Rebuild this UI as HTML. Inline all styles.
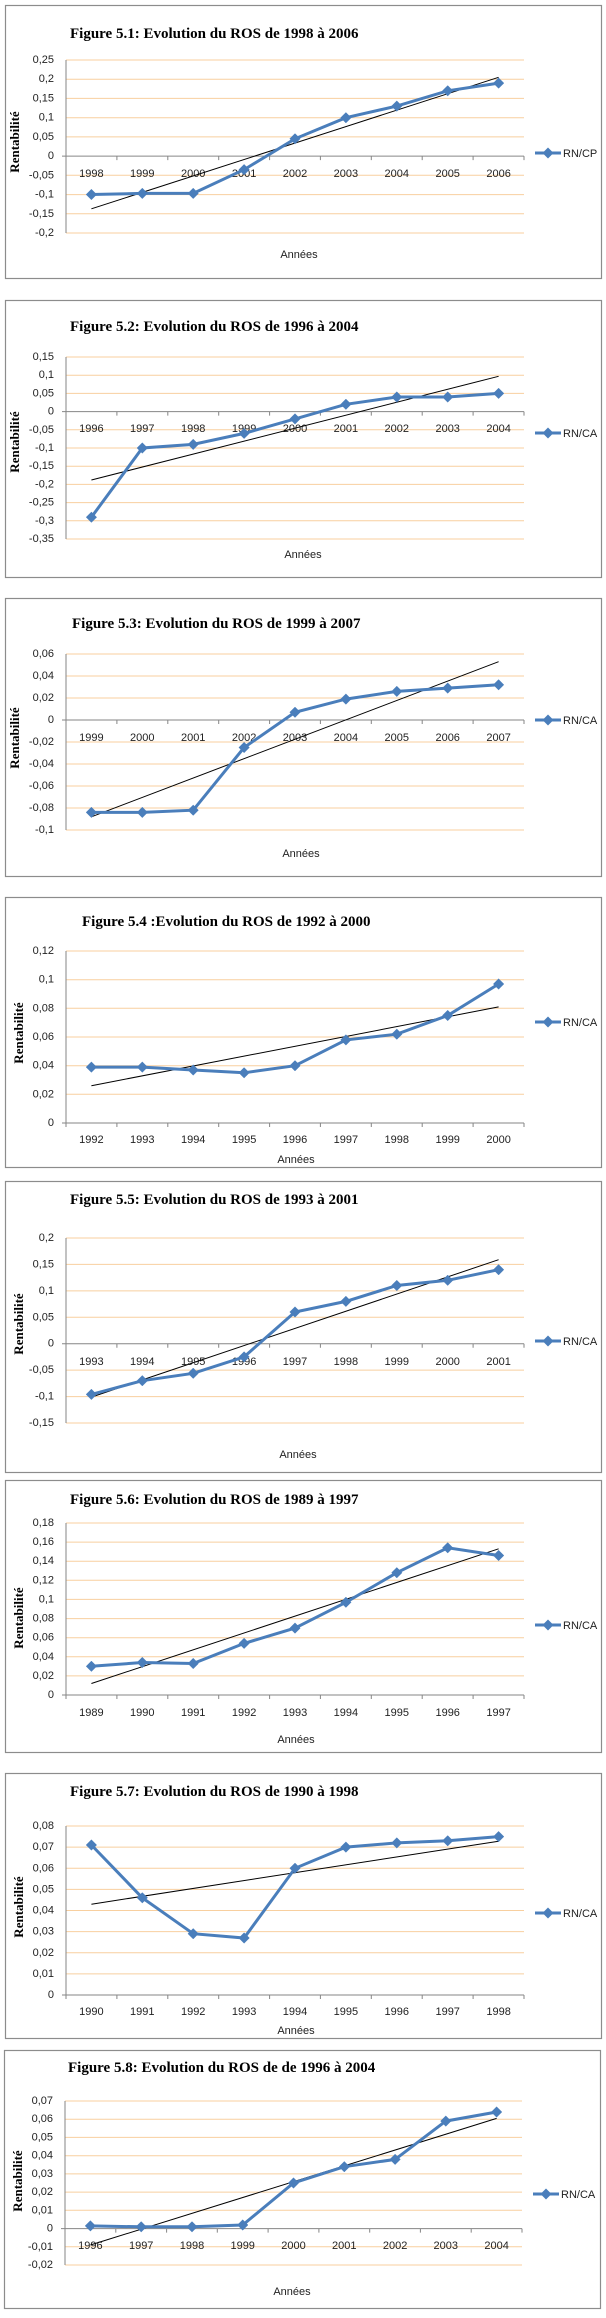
<!DOCTYPE html>
<html><head><meta charset="utf-8"><style>
body{margin:0;background:#fff}
svg{display:block}
.t{font:bold 15px "Liberation Serif",serif;fill:#000}
.yl{font:bold 13px "Liberation Serif",serif;fill:#000}
.n{font:11px "Liberation Sans",sans-serif;fill:#222}
.g{stroke:#f8cf9f;stroke-width:1}
.ax{stroke:#868686;stroke-width:1;fill:none}
.s{fill:none;stroke:#4a7ebb;stroke-width:3;marker-start:url(#d);marker-mid:url(#d);marker-end:url(#d)}
.tr{stroke:#000;stroke-width:1}
.b{fill:none;stroke:#8c8c8c;stroke-width:1.2}
</style></head><body>
<svg width="606" height="2318" viewBox="0 0 606 2318" xmlns="http://www.w3.org/2000/svg">
<defs><marker id="d" markerWidth="11" markerHeight="11" refX="5.5" refY="5.5" markerUnits="userSpaceOnUse"><path d="M5.5 0L11 5.5 5.5 11 0 5.5z" fill="#4a7ebb"/></marker></defs>

<!-- Panel 1 -->
<rect class="b" x="5.5" y="5.5" width="596" height="273"/>
<text class="t" x="70" y="38">Figure 5.1: Evolution du ROS de 1998 à 2006</text>
<g class="g"><line x1="66" x2="524" y1="60" y2="60"/><line x1="66" x2="524" y1="79.2" y2="79.2"/><line x1="66" x2="524" y1="98.4" y2="98.4"/><line x1="66" x2="524" y1="117.7" y2="117.7"/><line x1="66" x2="524" y1="136.9" y2="136.9"/><line x1="66" x2="524" y1="175.3" y2="175.3"/><line x1="66" x2="524" y1="194.6" y2="194.6"/><line x1="66" x2="524" y1="213.8" y2="213.8"/><line x1="66" x2="524" y1="233" y2="233"/></g>
<path class="ax" d="M66 60V233M62 156.1H524M116.9 156.1v4M167.8 156.1v4M218.7 156.1v4M269.6 156.1v4M320.4 156.1v4M371.3 156.1v4M422.2 156.1v4M473.1 156.1v4M524 156.1v4"/>
<g class="n" text-anchor="end" dominant-baseline="central"><text x="54" y="60">0,25</text><text x="54" y="79.2">0,2</text><text x="54" y="98.4">0,15</text><text x="54" y="117.7">0,1</text><text x="54" y="136.9">0,05</text><text x="54" y="156.1">0</text><text x="54" y="175.3">-0,05</text><text x="54" y="194.6">-0,1</text><text x="54" y="213.8">-0,15</text><text x="54" y="233">-0,2</text></g>
<g class="n" text-anchor="middle" dominant-baseline="central"><text x="91.4" y="174">1998</text><text x="142.3" y="174">1999</text><text x="193.2" y="174">2000</text><text x="244.1" y="174">2001</text><text x="295" y="174">2002</text><text x="345.9" y="174">2003</text><text x="396.8" y="174">2004</text><text x="447.7" y="174">2005</text><text x="498.6" y="174">2006</text></g>
<line class="tr" x1="91.4" y1="208.8" x2="498.6" y2="77.3"/>
<polyline class="s" points="91.4,194.5 142.3,193.4 193.2,193.4 244.1,169.6 295,138.8 345.9,117.7 396.8,106.1 447.7,90.8 498.6,83.1"/>
<text class="yl" transform="translate(19,142) rotate(-90)" text-anchor="middle">Rentabilité</text>
<text class="n" x="299" y="258" text-anchor="middle">Années</text>
<line x1="535" x2="561" y1="153" y2="153" stroke="#4a7ebb" stroke-width="3" marker-mid="url(#d)"/><path d="M548 147.5L553.5 153 548 158.5 542.5 153z" fill="#4a7ebb"/>
<text class="n" x="563" y="157">RN/CP</text>

<!-- Panel 2 -->
<rect class="b" x="5.5" y="300.5" width="596" height="277"/>
<text class="t" x="70" y="331">Figure 5.2: Evolution du ROS de 1996 à 2004</text>
<g class="g"><line x1="66" x2="524" y1="357" y2="357"/><line x1="66" x2="524" y1="375.2" y2="375.2"/><line x1="66" x2="524" y1="393.4" y2="393.4"/><line x1="66" x2="524" y1="429.8" y2="429.8"/><line x1="66" x2="524" y1="448" y2="448"/><line x1="66" x2="524" y1="466.2" y2="466.2"/><line x1="66" x2="524" y1="484.4" y2="484.4"/><line x1="66" x2="524" y1="502.6" y2="502.6"/><line x1="66" x2="524" y1="520.8" y2="520.8"/><line x1="66" x2="524" y1="539" y2="539"/></g>
<path class="ax" d="M66 357V539M62 411.6H524M116.9 411.6v4M167.8 411.6v4M218.7 411.6v4M269.6 411.6v4M320.4 411.6v4M371.3 411.6v4M422.2 411.6v4M473.1 411.6v4M524 411.6v4"/>
<g class="n" text-anchor="end" dominant-baseline="central"><text x="54" y="357">0,15</text><text x="54" y="375.2">0,1</text><text x="54" y="393.4">0,05</text><text x="54" y="411.6">0</text><text x="54" y="429.8">-0,05</text><text x="54" y="448">-0,1</text><text x="54" y="466.2">-0,15</text><text x="54" y="484.4">-0,2</text><text x="54" y="502.6">-0,25</text><text x="54" y="520.8">-0,3</text><text x="54" y="539">-0,35</text></g>
<g class="n" text-anchor="middle" dominant-baseline="central"><text x="91.4" y="429">1996</text><text x="142.3" y="429">1997</text><text x="193.2" y="429">1998</text><text x="244.1" y="429">1999</text><text x="295" y="429">2000</text><text x="345.9" y="429">2001</text><text x="396.8" y="429">2002</text><text x="447.7" y="429">2003</text><text x="498.6" y="429">2004</text></g>
<line class="tr" x1="91.4" y1="480" x2="498.6" y2="376.3"/>
<polyline class="s" points="91.4,517.2 142.3,448 193.2,444.4 244.1,433.4 295,418.9 345.9,404.3 396.8,397 447.7,397 498.6,393.4"/>
<text class="yl" transform="translate(19,442) rotate(-90)" text-anchor="middle">Rentabilité</text>
<text class="n" x="303" y="558" text-anchor="middle">Années</text>
<line x1="535" x2="561" y1="433" y2="433" stroke="#4a7ebb" stroke-width="3"/><path d="M548 427.5L553.5 433 548 438.5 542.5 433z" fill="#4a7ebb"/>
<text class="n" x="563" y="437">RN/CA</text>

<!-- Panel 3 -->
<rect class="b" x="5.5" y="598.5" width="596" height="278"/>
<text class="t" x="72" y="628">Figure 5.3: Evolution du ROS de 1999 à 2007</text>
<g class="g"><line x1="66" x2="524" y1="654" y2="654"/><line x1="66" x2="524" y1="676" y2="676"/><line x1="66" x2="524" y1="698" y2="698"/><line x1="66" x2="524" y1="742" y2="742"/><line x1="66" x2="524" y1="764" y2="764"/><line x1="66" x2="524" y1="786" y2="786"/><line x1="66" x2="524" y1="808" y2="808"/><line x1="66" x2="524" y1="830" y2="830"/></g>
<path class="ax" d="M66 654V830M62 720H524M116.9 720v4M167.8 720v4M218.7 720v4M269.6 720v4M320.4 720v4M371.3 720v4M422.2 720v4M473.1 720v4M524 720v4"/>
<g class="n" text-anchor="end" dominant-baseline="central"><text x="54" y="654">0,06</text><text x="54" y="676">0,04</text><text x="54" y="698">0,02</text><text x="54" y="720">0</text><text x="54" y="742">-0,02</text><text x="54" y="764">-0,04</text><text x="54" y="786">-0,06</text><text x="54" y="808">-0,08</text><text x="54" y="830">-0,1</text></g>
<g class="n" text-anchor="middle" dominant-baseline="central"><text x="91.4" y="738">1999</text><text x="142.3" y="738">2000</text><text x="193.2" y="738">2001</text><text x="244.1" y="738">2002</text><text x="295" y="738">2003</text><text x="345.9" y="738">2004</text><text x="396.8" y="738">2005</text><text x="447.7" y="738">2006</text><text x="498.6" y="738">2007</text></g>
<line class="tr" x1="91.4" y1="816.8" x2="498.6" y2="661.7"/>
<polyline class="s" points="91.4,812.4 142.3,812.4 193.2,810.2 244.1,747.5 295,712.3 345.9,699.1 396.8,691.4 447.7,688.1 498.6,684.8"/>
<text class="yl" transform="translate(19,738) rotate(-90)" text-anchor="middle">Rentabilité</text>
<text class="n" x="301" y="857" text-anchor="middle">Années</text>
<line x1="535" x2="561" y1="720" y2="720" stroke="#4a7ebb" stroke-width="3"/><path d="M548 714.5L553.5 720 548 725.5 542.5 720z" fill="#4a7ebb"/>
<text class="n" x="563" y="724">RN/CA</text>

<!-- Panel 4 -->
<rect class="b" x="5.5" y="897.5" width="596" height="270"/>
<text class="t" x="82" y="926">Figure 5.4 :Evolution du ROS de 1992 à 2000</text>
<g class="g"><line x1="66" x2="524" y1="951" y2="951"/><line x1="66" x2="524" y1="979.7" y2="979.7"/><line x1="66" x2="524" y1="1008.3" y2="1008.3"/><line x1="66" x2="524" y1="1037" y2="1037"/><line x1="66" x2="524" y1="1065.7" y2="1065.7"/><line x1="66" x2="524" y1="1094.3" y2="1094.3"/></g>
<path class="ax" d="M66 951V1123M62 1123H524M66 1123v4M116.9 1123v4M167.8 1123v4M218.7 1123v4M269.6 1123v4M320.4 1123v4M371.3 1123v4M422.2 1123v4M473.1 1123v4M524 1123v4"/>
<g class="n" text-anchor="end" dominant-baseline="central"><text x="54" y="951">0,12</text><text x="54" y="979.7">0,1</text><text x="54" y="1008.3">0,08</text><text x="54" y="1037">0,06</text><text x="54" y="1065.7">0,04</text><text x="54" y="1094.3">0,02</text><text x="54" y="1123">0</text></g>
<g class="n" text-anchor="middle" dominant-baseline="central"><text x="91.4" y="1140">1992</text><text x="142.3" y="1140">1993</text><text x="193.2" y="1140">1994</text><text x="244.1" y="1140">1995</text><text x="295" y="1140">1996</text><text x="345.9" y="1140">1997</text><text x="396.8" y="1140">1998</text><text x="447.7" y="1140">1999</text><text x="498.6" y="1140">2000</text></g>
<line class="tr" x1="91.4" y1="1085.7" x2="498.6" y2="1006.9"/>
<polyline class="s" points="91.4,1067.1 142.3,1067.1 193.2,1070 244.1,1072.8 295,1065.7 345.9,1039.9 396.8,1034.2 447.7,1015.5 498.6,984"/>
<text class="yl" transform="translate(23,1033) rotate(-90)" text-anchor="middle">Rentabilité</text>
<text class="n" x="296" y="1163" text-anchor="middle">Années</text>
<line x1="535" x2="561" y1="1022" y2="1022" stroke="#4a7ebb" stroke-width="3"/><path d="M548 1016.5L553.5 1022 548 1027.5 542.5 1022z" fill="#4a7ebb"/>
<text class="n" x="563" y="1026">RN/CA</text>

<!-- Panel 5 -->
<rect class="b" x="5.5" y="1181.5" width="596" height="291"/>
<text class="t" x="70" y="1204">Figure 5.5: Evolution du ROS de 1993 à 2001</text>
<g class="g"><line x1="66" x2="524" y1="1238" y2="1238"/><line x1="66" x2="524" y1="1264.4" y2="1264.4"/><line x1="66" x2="524" y1="1290.9" y2="1290.9"/><line x1="66" x2="524" y1="1317.3" y2="1317.3"/><line x1="66" x2="524" y1="1370.1" y2="1370.1"/><line x1="66" x2="524" y1="1396.6" y2="1396.6"/><line x1="66" x2="524" y1="1423" y2="1423"/></g>
<path class="ax" d="M66 1238V1423M62 1343.7H524M116.9 1343.7v4M167.8 1343.7v4M218.7 1343.7v4M269.6 1343.7v4M320.4 1343.7v4M371.3 1343.7v4M422.2 1343.7v4M473.1 1343.7v4M524 1343.7v4"/>
<g class="n" text-anchor="end" dominant-baseline="central"><text x="54" y="1238">0,2</text><text x="54" y="1264.4">0,15</text><text x="54" y="1290.9">0,1</text><text x="54" y="1317.3">0,05</text><text x="54" y="1343.7">0</text><text x="54" y="1370.1">-0,05</text><text x="54" y="1396.6">-0,1</text><text x="54" y="1423">-0,15</text></g>
<g class="n" text-anchor="middle" dominant-baseline="central"><text x="91.4" y="1362">1993</text><text x="142.3" y="1362">1994</text><text x="193.2" y="1362">1995</text><text x="244.1" y="1362">1996</text><text x="295" y="1362">1997</text><text x="345.9" y="1362">1998</text><text x="396.8" y="1362">1999</text><text x="447.7" y="1362">2000</text><text x="498.6" y="1362">2001</text></g>
<line class="tr" x1="91.4" y1="1397.1" x2="498.6" y2="1259.7"/>
<polyline class="s" points="91.4,1394.4 142.3,1380.7 193.2,1373.3 244.1,1356.9 295,1312 345.9,1301.4 396.8,1285.5 447.7,1280.3 498.6,1269.7"/>
<text class="yl" transform="translate(23,1324) rotate(-90)" text-anchor="middle">Rentabilité</text>
<text class="n" x="298" y="1458" text-anchor="middle">Années</text>
<line x1="535" x2="561" y1="1341" y2="1341" stroke="#4a7ebb" stroke-width="3"/><path d="M548 1335.5L553.5 1341 548 1346.5 542.5 1341z" fill="#4a7ebb"/>
<text class="n" x="563" y="1345">RN/CA</text>

<!-- Panel 6 -->
<rect class="b" x="5.5" y="1480.5" width="596" height="272"/>
<text class="t" x="70" y="1504">Figure 5.6: Evolution du ROS de 1989 à 1997</text>
<g class="g"><line x1="66" x2="524" y1="1523" y2="1523"/><line x1="66" x2="524" y1="1542.1" y2="1542.1"/><line x1="66" x2="524" y1="1561.2" y2="1561.2"/><line x1="66" x2="524" y1="1580.3" y2="1580.3"/><line x1="66" x2="524" y1="1599.4" y2="1599.4"/><line x1="66" x2="524" y1="1618.6" y2="1618.6"/><line x1="66" x2="524" y1="1637.7" y2="1637.7"/><line x1="66" x2="524" y1="1656.8" y2="1656.8"/><line x1="66" x2="524" y1="1675.9" y2="1675.9"/></g>
<path class="ax" d="M66 1523V1695M62 1695H524M66 1695v4M116.9 1695v4M167.8 1695v4M218.7 1695v4M269.6 1695v4M320.4 1695v4M371.3 1695v4M422.2 1695v4M473.1 1695v4M524 1695v4"/>
<g class="n" text-anchor="end" dominant-baseline="central"><text x="54" y="1523">0,18</text><text x="54" y="1542.1">0,16</text><text x="54" y="1561.2">0,14</text><text x="54" y="1580.3">0,12</text><text x="54" y="1599.4">0,1</text><text x="54" y="1618.6">0,08</text><text x="54" y="1637.7">0,06</text><text x="54" y="1656.8">0,04</text><text x="54" y="1675.9">0,02</text><text x="54" y="1695">0</text></g>
<g class="n" text-anchor="middle" dominant-baseline="central"><text x="91.4" y="1713">1989</text><text x="142.3" y="1713">1990</text><text x="193.2" y="1713">1991</text><text x="244.1" y="1713">1992</text><text x="295" y="1713">1993</text><text x="345.9" y="1713">1994</text><text x="396.8" y="1713">1995</text><text x="447.7" y="1713">1996</text><text x="498.6" y="1713">1997</text></g>
<line class="tr" x1="91.4" y1="1683.5" x2="498.6" y2="1548.8"/>
<polyline class="s" points="91.4,1666.3 142.3,1662.5 193.2,1663.5 244.1,1643.4 295,1628.1 345.9,1602.3 396.8,1572.7 447.7,1547.8 498.6,1555.5"/>
<text class="yl" transform="translate(23,1618) rotate(-90)" text-anchor="middle">Rentabilité</text>
<text class="n" x="296" y="1743" text-anchor="middle">Années</text>
<line x1="535" x2="561" y1="1625" y2="1625" stroke="#4a7ebb" stroke-width="3"/><path d="M548 1619.5L553.5 1625 548 1630.5 542.5 1625z" fill="#4a7ebb"/>
<text class="n" x="563" y="1629">RN/CA</text>

<!-- Panel 7 -->
<rect class="b" x="5.5" y="1773.5" width="596" height="265"/>
<text class="t" x="70" y="1796">Figure 5.7: Evolution du ROS de 1990 à 1998</text>
<g class="g"><line x1="66" x2="524" y1="1826" y2="1826"/><line x1="66" x2="524" y1="1847.1" y2="1847.1"/><line x1="66" x2="524" y1="1868.3" y2="1868.3"/><line x1="66" x2="524" y1="1889.4" y2="1889.4"/><line x1="66" x2="524" y1="1910.5" y2="1910.5"/><line x1="66" x2="524" y1="1931.6" y2="1931.6"/><line x1="66" x2="524" y1="1952.8" y2="1952.8"/><line x1="66" x2="524" y1="1973.9" y2="1973.9"/></g>
<path class="ax" d="M66 1826V1995M62 1995H524M66 1995v4M116.9 1995v4M167.8 1995v4M218.7 1995v4M269.6 1995v4M320.4 1995v4M371.3 1995v4M422.2 1995v4M473.1 1995v4M524 1995v4"/>
<g class="n" text-anchor="end" dominant-baseline="central"><text x="54" y="1826">0,08</text><text x="54" y="1847.1">0,07</text><text x="54" y="1868.3">0,06</text><text x="54" y="1889.4">0,05</text><text x="54" y="1910.5">0,04</text><text x="54" y="1931.6">0,03</text><text x="54" y="1952.8">0,02</text><text x="54" y="1973.9">0,01</text><text x="54" y="1995">0</text></g>
<g class="n" text-anchor="middle" dominant-baseline="central"><text x="91.4" y="2012">1990</text><text x="142.3" y="2012">1991</text><text x="193.2" y="2012">1992</text><text x="244.1" y="2012">1993</text><text x="295" y="2012">1994</text><text x="345.9" y="2012">1995</text><text x="396.8" y="2012">1996</text><text x="447.7" y="2012">1997</text><text x="498.6" y="2012">1998</text></g>
<line class="tr" x1="91.4" y1="1904.2" x2="498.6" y2="1841.2"/>
<polyline class="s" points="91.4,1845 142.3,1897.8 193.2,1933.7 244.1,1938 295,1868.3 345.9,1847.1 396.8,1842.9 447.7,1840.8 498.6,1836.6"/>
<text class="yl" transform="translate(23,1907) rotate(-90)" text-anchor="middle">Rentabilité</text>
<text class="n" x="296" y="2034" text-anchor="middle">Années</text>
<line x1="535" x2="561" y1="1913" y2="1913" stroke="#4a7ebb" stroke-width="3"/><path d="M548 1907.5L553.5 1913 548 1918.5 542.5 1913z" fill="#4a7ebb"/>
<text class="n" x="563" y="1917">RN/CA</text>

<!-- Panel 8 -->
<rect class="b" x="4.5" y="2050.5" width="596" height="258"/>
<text class="t" x="68" y="2072">Figure 5.8: Evolution du ROS de de 1996 à 2004</text>
<g class="g"><line x1="65" x2="522" y1="2101" y2="2101"/><line x1="65" x2="522" y1="2119.2" y2="2119.2"/><line x1="65" x2="522" y1="2137.4" y2="2137.4"/><line x1="65" x2="522" y1="2155.7" y2="2155.7"/><line x1="65" x2="522" y1="2173.9" y2="2173.9"/><line x1="65" x2="522" y1="2192.1" y2="2192.1"/><line x1="65" x2="522" y1="2210.3" y2="2210.3"/><line x1="65" x2="522" y1="2246.8" y2="2246.8"/><line x1="65" x2="522" y1="2265" y2="2265"/></g>
<path class="ax" d="M65 2101V2265M61 2228.6H522M115.8 2228.6v4M166.6 2228.6v4M217.3 2228.6v4M268.1 2228.6v4M318.9 2228.6v4M369.7 2228.6v4M420.4 2228.6v4M471.2 2228.6v4M522 2228.6v4"/>
<g class="n" text-anchor="end" dominant-baseline="central"><text x="53" y="2101">0,07</text><text x="53" y="2119.2">0,06</text><text x="53" y="2137.4">0,05</text><text x="53" y="2155.7">0,04</text><text x="53" y="2173.9">0,03</text><text x="53" y="2192.1">0,02</text><text x="53" y="2210.3">0,01</text><text x="53" y="2228.6">0</text><text x="53" y="2246.8">-0,01</text><text x="53" y="2265">-0,02</text></g>
<g class="n" text-anchor="middle" dominant-baseline="central"><text x="90.4" y="2246">1996</text><text x="141.2" y="2246">1997</text><text x="192" y="2246">1998</text><text x="242.7" y="2246">1999</text><text x="293.5" y="2246">2000</text><text x="344.3" y="2246">2001</text><text x="395.1" y="2246">2002</text><text x="445.8" y="2246">2003</text><text x="496.6" y="2246">2004</text></g>
<line class="tr" x1="90.4" y1="2245" x2="496.6" y2="2118.4"/>
<polyline class="s" points="90.4,2225.9 141.2,2226.8 192,2226.8 242.7,2225 293.5,2183 344.3,2166.7 395.1,2159.4 445.8,2121.1 496.6,2112"/>
<text class="yl" transform="translate(22,2181) rotate(-90)" text-anchor="middle">Rentabilité</text>
<text class="n" x="292" y="2295" text-anchor="middle">Années</text>
<line x1="533" x2="559" y1="2194" y2="2194" stroke="#4a7ebb" stroke-width="3"/><path d="M546 2188.5L551.5 2194 546 2199.5 540.5 2194z" fill="#4a7ebb"/>
<text class="n" x="561" y="2198">RN/CA</text>
</svg>
</body></html>
